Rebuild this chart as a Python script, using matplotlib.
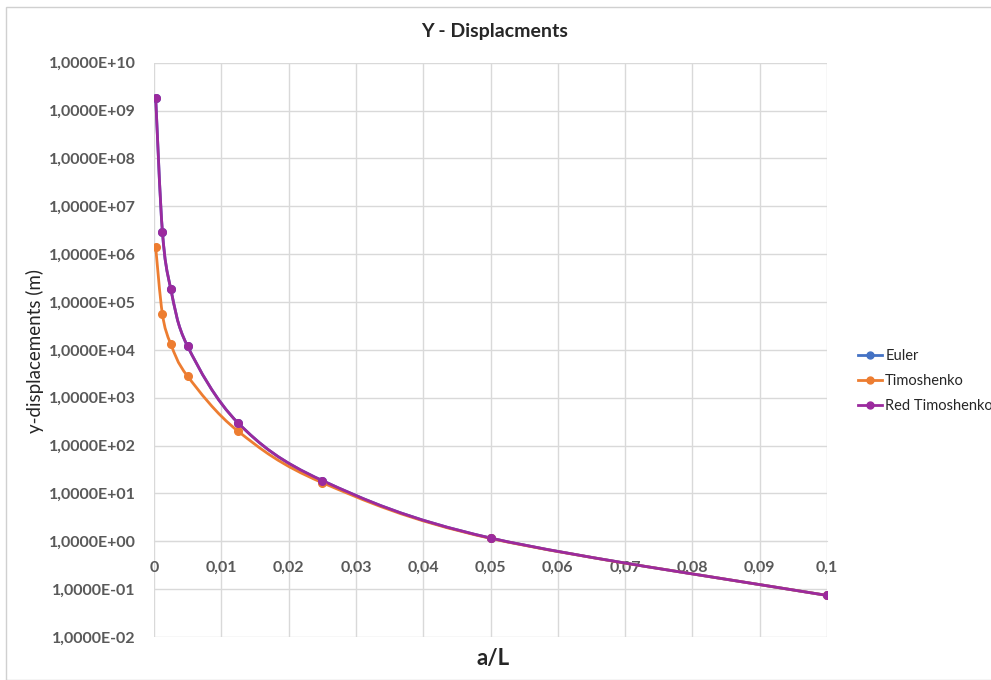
import numpy as np
import matplotlib
matplotlib.use('Agg')
import matplotlib.pyplot as plt
from matplotlib.path import Path
from matplotlib.patches import PathPatch, Rectangle
from matplotlib.ticker import FixedLocator, FuncFormatter

# data
a_L = [0.00025, 0.00125, 0.0025, 0.005, 0.0125, 0.025, 0.05, 0.1]
euler = [1.86e9, 2.96e6, 1.86e5, 1.18e4, 296, 18.6, 1.17, 0.074]
timoshenko = [1.4e6, 5.6e4, 1.32e4, 2.8e3, 199, 16.8, 1.15, 0.074]
red_timoshenko = [1.86e9, 2.96e6, 1.86e5, 1.18e4, 296, 18.6, 1.17, 0.074]

series_names = ['Euler', 'Timoshenko', 'Red Timoshenko']
series_colors = ['#4472C4', '#ED7D31', '#9B2A9E']

x_ticks = [0, 0.01, 0.02, 0.03, 0.04, 0.05, 0.06, 0.07, 0.08, 0.09, 0.1]
y_exps = list(range(-2, 11))

plt.rcParams['font.family'] = ['Lato', 'DejaVu Sans']


# smooth line like excel: catmull-rom bezier in (x, log y), handed back as data
def smooth_path(x, y):
    x = np.asarray(x, float)
    ly = np.log10(np.asarray(y, float))
    n = len(x)
    verts = [(x[0], 10 ** ly[0])]
    codes = [Path.MOVETO]
    for i in range(n - 1):
        i0 = max(i - 1, 0)
        i3 = min(i + 2, n - 1)
        c1 = (x[i] + (x[i + 1] - x[i0]) / 6, ly[i] + (ly[i + 1] - ly[i0]) / 6)
        c2 = (x[i + 1] - (x[i3] - x[i]) / 6, ly[i + 1] - (ly[i3] - ly[i]) / 6)
        verts += [(c1[0], 10 ** c1[1]), (c2[0], 10 ** c2[1]), (x[i + 1], 10 ** ly[i + 1])]
        codes += [Path.CURVE4] * 3
    return Path(verts, codes)


fig = plt.figure(figsize=(9.91, 6.8), dpi=100)
fig.patches.append(Rectangle((6 / 991, 0.0), 1.0, 1 - 7 / 680, transform=fig.transFigure,
                             fill=False, edgecolor='#d0d0d0', linewidth=1.0))
ax = fig.add_axes([154 / 991, 1 - 637 / 680, 673 / 991, 574.3 / 680])

for name, col, ys in zip(series_names, series_colors, [euler, timoshenko, red_timoshenko]):
    ax.add_patch(PathPatch(smooth_path(a_L, ys), facecolor='none', edgecolor=col,
                           linewidth=2.0, zorder=3))
    ax.plot(a_L, ys, linestyle='none', marker='o', markersize=5.5, color=col,
            zorder=4)
    ax.plot([], [], color=col, marker='o', markersize=5, linewidth=2.0, label=name)

ax.set_yscale('log')
ax.set_xlim(0, 0.1)
ax.set_ylim(1e-2, 1e10)
ax.xaxis.set_major_locator(FixedLocator(x_ticks))
ax.xaxis.set_major_formatter(FuncFormatter(lambda v, p: ('%g' % round(v, 3)).replace('.', ',')))
ax.yaxis.set_major_locator(FixedLocator([10.0 ** e for e in y_exps]))
ax.yaxis.set_minor_locator(FixedLocator([]))
ax.yaxis.set_major_formatter(FuncFormatter(
    lambda v, p: '1,0000E%s%02d' % ('+' if np.log10(v) >= 0 else '-', abs(round(np.log10(v))))))

ax.grid(True, color='#d9d9d9', linewidth=1.0)
ax.set_axisbelow(True)
for s in ['top', 'right', 'left']:
    ax.spines[s].set_visible(False)
ax.spines['bottom'].set_position(('data', 1))
ax.spines['bottom'].set_color('#d9d9d9')
ax.tick_params(length=0, labelsize=11.5, labelcolor='#595959')
ax.tick_params(axis='x', pad=14)
ax.tick_params(axis='y', pad=13)
for lab in ax.get_xticklabels() + ax.get_yticklabels():
    lab.set_fontweight('bold')

fig.text(495 / 991, 1 - 31 / 680, 'Y - Displacments', ha='center', va='center',
         fontsize=14, fontweight='bold', color='#262626')
fig.text(35 / 991, 1 - 351 / 680, 'y-displacements (m)', ha='center', va='center',
         rotation=90, fontsize=13.5, color='#262626')
fig.text(493 / 991, 1 - 658 / 680, 'a/L', ha='center', va='center',
         fontsize=16, fontweight='bold', color='#262626')

fig.legend(loc='center left', bbox_to_anchor=(848 / 991, 1 - 381 / 680), frameon=False,
           fontsize=10.5, handlelength=1.6, handletextpad=0.25, labelspacing=0.75,
           borderpad=0.2, labelcolor='#262626')

fig.savefig('out.png', dpi=100)
